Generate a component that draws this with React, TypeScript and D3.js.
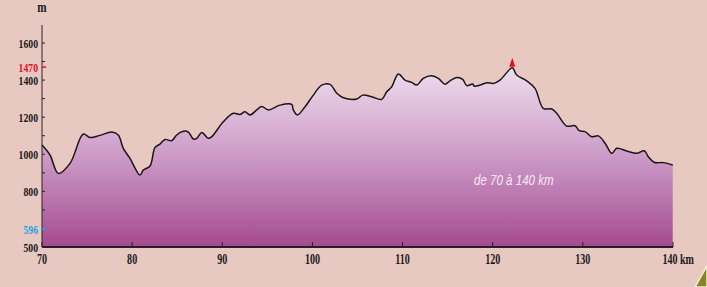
import React from 'react';
import * as d3 from 'd3';

// profile: distance (km) and altitude (m)
const kms = [70, 70.89, 71.81, 73.11, 74.58, 75.33, 76.43, 77.73, 78.46, 79.02, 79.76, 80.87, 81.24, 81.98,
  82.54, 83.09, 83.65, 84.39, 84.94, 85.68, 86.23, 86.79, 87.16, 87.72, 88.45, 88.83, 90.11, 91.22, 91.97,
  92.52, 93.08, 93.82, 94.37, 95.11, 96.4, 97.7, 97.88, 98.32, 99.18, 100.1, 101.03, 101.95, 102.7, 103.43,
  104.91, 105.58, 106.58, 107.69, 108.24, 108.8, 109.53, 110.27, 111.01, 111.57, 112.3, 113.23, 113.97,
  114.71, 115.26, 116.01, 116.67, 117.12, 117.78, 117.93, 118.59, 119.33, 120.07, 120.81, 122.17, 122.66,
  123.77, 124.69, 125.61, 126.55, 127.1, 128.21, 129.13, 129.61, 130.24, 130.98, 131.72, 132.47, 133.21,
  133.76, 134.87, 135.97, 136.82, 137.26, 137.89, 138.93, 139.97];
const elev = [1050, 996, 897, 951, 1109, 1091, 1102, 1120, 1104, 1032, 978, 888, 915, 937,
  1037, 1055, 1080, 1073, 1104, 1124, 1120, 1082, 1086, 1118, 1086, 1095, 1175, 1221, 1215,
  1229, 1212, 1239, 1258, 1239, 1265, 1269, 1239, 1212, 1256, 1319, 1373, 1377, 1329, 1305,
  1298, 1319, 1310, 1296, 1337, 1364, 1433, 1400, 1388, 1373, 1409, 1423, 1409,
  1378, 1396, 1414, 1404, 1370, 1379, 1368, 1373, 1386, 1382, 1400, 1466, 1427,
  1396, 1355, 1248, 1244, 1221, 1152, 1154, 1127, 1122, 1095, 1099, 1059, 1005,
  1032, 1018, 1005, 1019, 987, 957, 955, 942];

const xTicks = [70, 80, 90, 100, 110, 120, 130, 140];
const yLabels = [1600, 1400, 1200, 1000, 800, 500];
const yMinor = [1500, 1300, 1100, 900, 700];
const peakAlt = 1470;
const startAlt = 596;

const W = 707, H = 287;
const fontAxis = '"Liberation Serif", "DejaVu Serif", serif';

export default function App() {
  const x = d3.scaleLinear().domain([70, 140]).range([42, 673]);
  const y = d3.scaleLinear().domain([500, 1600]).range([247, 43]);

  const data: [number, number][] = kms.map((k, i) => [k, elev[i]]);

  const line = d3.line<[number, number]>()
    .x((d) => x(d[0]))
    .y((d) => y(d[1]))
    .curve(d3.curveCatmullRom.alpha(0.5));

  const area = d3.area<[number, number]>()
    .x((d) => x(d[0]))
    .y0(y(500))
    .y1((d) => y(d[1]))
    .curve(d3.curveCatmullRom.alpha(0.5));

  const peak = data.reduce((a, b) => (b[1] > a[1] ? b : a));
  const px = x(peak[0]), py = y(peak[1]);

  const cond = (tx: number, ty: number, s = 0.72) => `translate(${tx},${ty}) scale(${s},1)`;

  return (
    <svg width={W} height={H} style={{ position: 'absolute', left: 0, top: 0, display: 'block' }}>
      <defs>
        <linearGradient id="fillGrad" gradientUnits="userSpaceOnUse" x1="0" x2="0" y1={y(1470)} y2={y(500)}>
          <stop offset="0" stopColor="#eedded" />
          <stop offset="0.5" stopColor="#cc9ac7" />
          <stop offset="1" stopColor="#a44a8f" />
        </linearGradient>
      </defs>
      <rect width={W} height={H} fill="#e8c9c1" />

      <path d={area(data) || ''} fill="url(#fillGrad)" />
      <path d={line(data) || ''} fill="none" stroke="#1c1418" strokeWidth={1.5} strokeLinejoin="round" />

      {/* peak marker */}
      <path d={`M${px - 3},${py - 1} L${px},${py - 10} L${px + 3},${py - 1} Z`} fill="#e3101e" />

      {/* y axis */}
      <line x1={42} x2={42} y1={25} y2={247} stroke="#2a2226" strokeWidth={1} />
      <text transform={cond(42, 12, 0.8)} textAnchor="middle" fontFamily={fontAxis} fontWeight="bold" fontSize={14} fill="#1a1a1a">m</text>
      {yMinor.map((v) => (
        <line key={'m' + v} x1={42} x2={45} y1={y(v)} y2={y(v)} stroke="#2a2226" strokeWidth={1} />
      ))}
      {yLabels.map((v) => (
        <g key={v}>
          {v !== 500 && <line x1={42} x2={45} y1={y(v)} y2={y(v)} stroke="#2a2226" strokeWidth={1} />}
          <text transform={cond(38, y(v) + 5)} textAnchor="end" fontFamily={fontAxis} fontWeight="bold" fontSize={13.5} fill="#1a1a1a">{v}</text>
        </g>
      ))}
      <line x1={42} x2={46} y1={y(peakAlt)} y2={y(peakAlt)} stroke="#e3101e" strokeWidth={1.5} />
      <text transform={cond(38, y(peakAlt) + 4.5)} textAnchor="end" fontFamily={fontAxis} fontWeight="bold" fontSize={13.5} fill="#e3101e">{peakAlt}</text>
      <line x1={42} x2={46} y1={y(startAlt)} y2={y(startAlt)} stroke="#1ea0e0" strokeWidth={1.5} />
      <text transform={cond(38, y(startAlt) + 5)} textAnchor="end" fontFamily={fontAxis} fontWeight="bold" fontSize={13.5} fill="#1ea0e0">{startAlt}</text>

      {/* x axis */}
      <line x1={42} x2={673} y1={247} y2={247} stroke="#2a1c24" strokeWidth={2} />
      {xTicks.map((v) => (
        <g key={v}>
          <line x1={x(v)} x2={x(v)} y1={247} y2={242} stroke="#2a1c24" strokeWidth={1} />
          <text transform={cond(v === 140 ? x(v) - 3 : x(v), 264)} textAnchor="middle" fontFamily={fontAxis} fontWeight="bold" fontSize={14} fill="#1a1a1a">
            {v}
          </text>
        </g>
      ))}
      <text transform={cond(x(140) + 7, 264)} textAnchor="start" fontFamily={fontAxis} fontWeight="bold" fontSize={14} fill="#1a1a1a">km</text>

      <text transform={cond(474, 185, 0.77)} fontFamily='"Liberation Sans", Arial, sans-serif' fontStyle="italic" fontSize={15} fill="#f6eaf4">
        de 70 à 140 km
      </text>

      {/* corner decoration */}
      <path d="M695,287 L707,266 L707,287 Z" fill="#8a8420" stroke="#f4eedc" strokeWidth={1.5} />
    </svg>
  );
}
